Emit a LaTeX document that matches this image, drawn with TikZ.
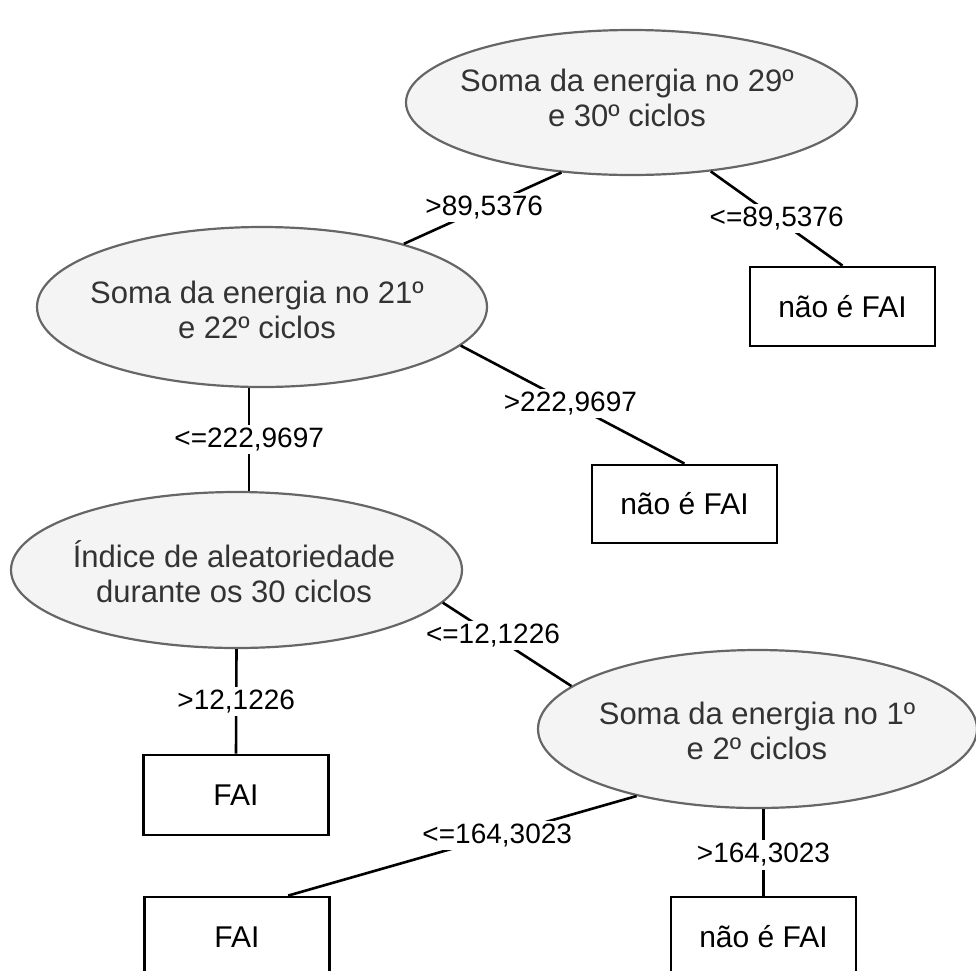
\documentclass[tikz,border=0pt]{standalone}
\usepackage{fontspec}
\setmainfont{Liberation Sans}
\usetikzlibrary{shapes.geometric,calc}
\definecolor{efill}{HTML}{F4F4F4}
\definecolor{edraw}{HTML}{666666}
\definecolor{etext}{HTML}{333333}
\tikzset{
  cond/.style={ellipse, draw=edraw, fill=efill, line width=2.2pt, inner sep=0pt},
  condtext/.style={text=etext, align=center, inner sep=0pt, font=\fontsize{31}{35}\selectfont},
  leaf/.style={rectangle, draw=black, line width=2.8pt, inner sep=0pt, minimum width=185pt, minimum height=79pt, font=\fontsize{30}{34}\selectfont},
  edge/.style={draw=black, line width=2.6pt},
  lbl/.style={fill=white, inner sep=3pt, text=black, font=\fontsize{28}{32}\selectfont}
}
\begin{document}
\begin{tikzpicture}[x=1pt,y=-1pt]
\useasboundingbox (0,0) rectangle (976,970);
\clip (0,0) rectangle (976,970);
% decision nodes
\node[cond, minimum width=451pt, minimum height=145pt] (T) at (631.5,102.5) {};
\node[condtext] (Tt) at (627,98) {Soma da energia no 29º\\e 30º ciclos};
\node[cond, minimum width=450pt, minimum height=160pt] (E2) at (262,307) {};
\node[condtext] (E2t) at (257,310) {Soma da energia no 21º\\e 22º ciclos};
\node[cond, minimum width=451pt, minimum height=156pt] (E3) at (236.5,570) {};
\node[condtext] (E3t) at (234,572) {Índice de aleatoriedade\\durante os 30 ciclos};
\node[cond, minimum width=439pt, minimum height=158pt] (E4) at (757.5,729) {};
\node[condtext] (E4t) at (757,730.5) {Soma da energia no 1º\\e 2º ciclos};
% leaves
\node[leaf] (B1) at (842.5,306.5) {não é FAI};
\node[leaf, minimum height=78pt] (B2) at (684.5,504) {não é FAI};
\node[leaf, minimum height=80pt] (B3) at (236,795) {FAI};
\node[leaf, minimum height=80pt] (B4) at (237,937) {FAI};
\node[leaf, minimum height=80pt] (B5) at (763.5,937) {não é FAI};
% connectors
\draw[edge] (T.-135) -- node[lbl, pos=0.49] {>89,5376} (E2.24);
\draw[edge] (T.-41) -- node[lbl, pos=0.5] {<=89,5376} (B1.north);
\draw[edge] (E2.-11) -- node[lbl, pos=0.49] {>222,9697} (B2.north);
\draw[edge] (E2.-99) -- node[lbl, pos=0.5] {<=222,9697} (E2.-99 |- E3.north);
\draw[edge] (E3.-9) -- node[lbl, pos=0.39] {<=12,1226} (E4.167);
\draw[edge] (E3.south) -- node[lbl, pos=0.5] {>12,1226} (B3.north);
\draw[edge] (E4.-151) -- node[lbl, pos=0.4] {<=164,3023} (B4.39);
\draw[edge] (B5.north |- E4.south) -- node[lbl, pos=0.53] {>164,3023} (B5.north);
\end{tikzpicture}
\end{document}
